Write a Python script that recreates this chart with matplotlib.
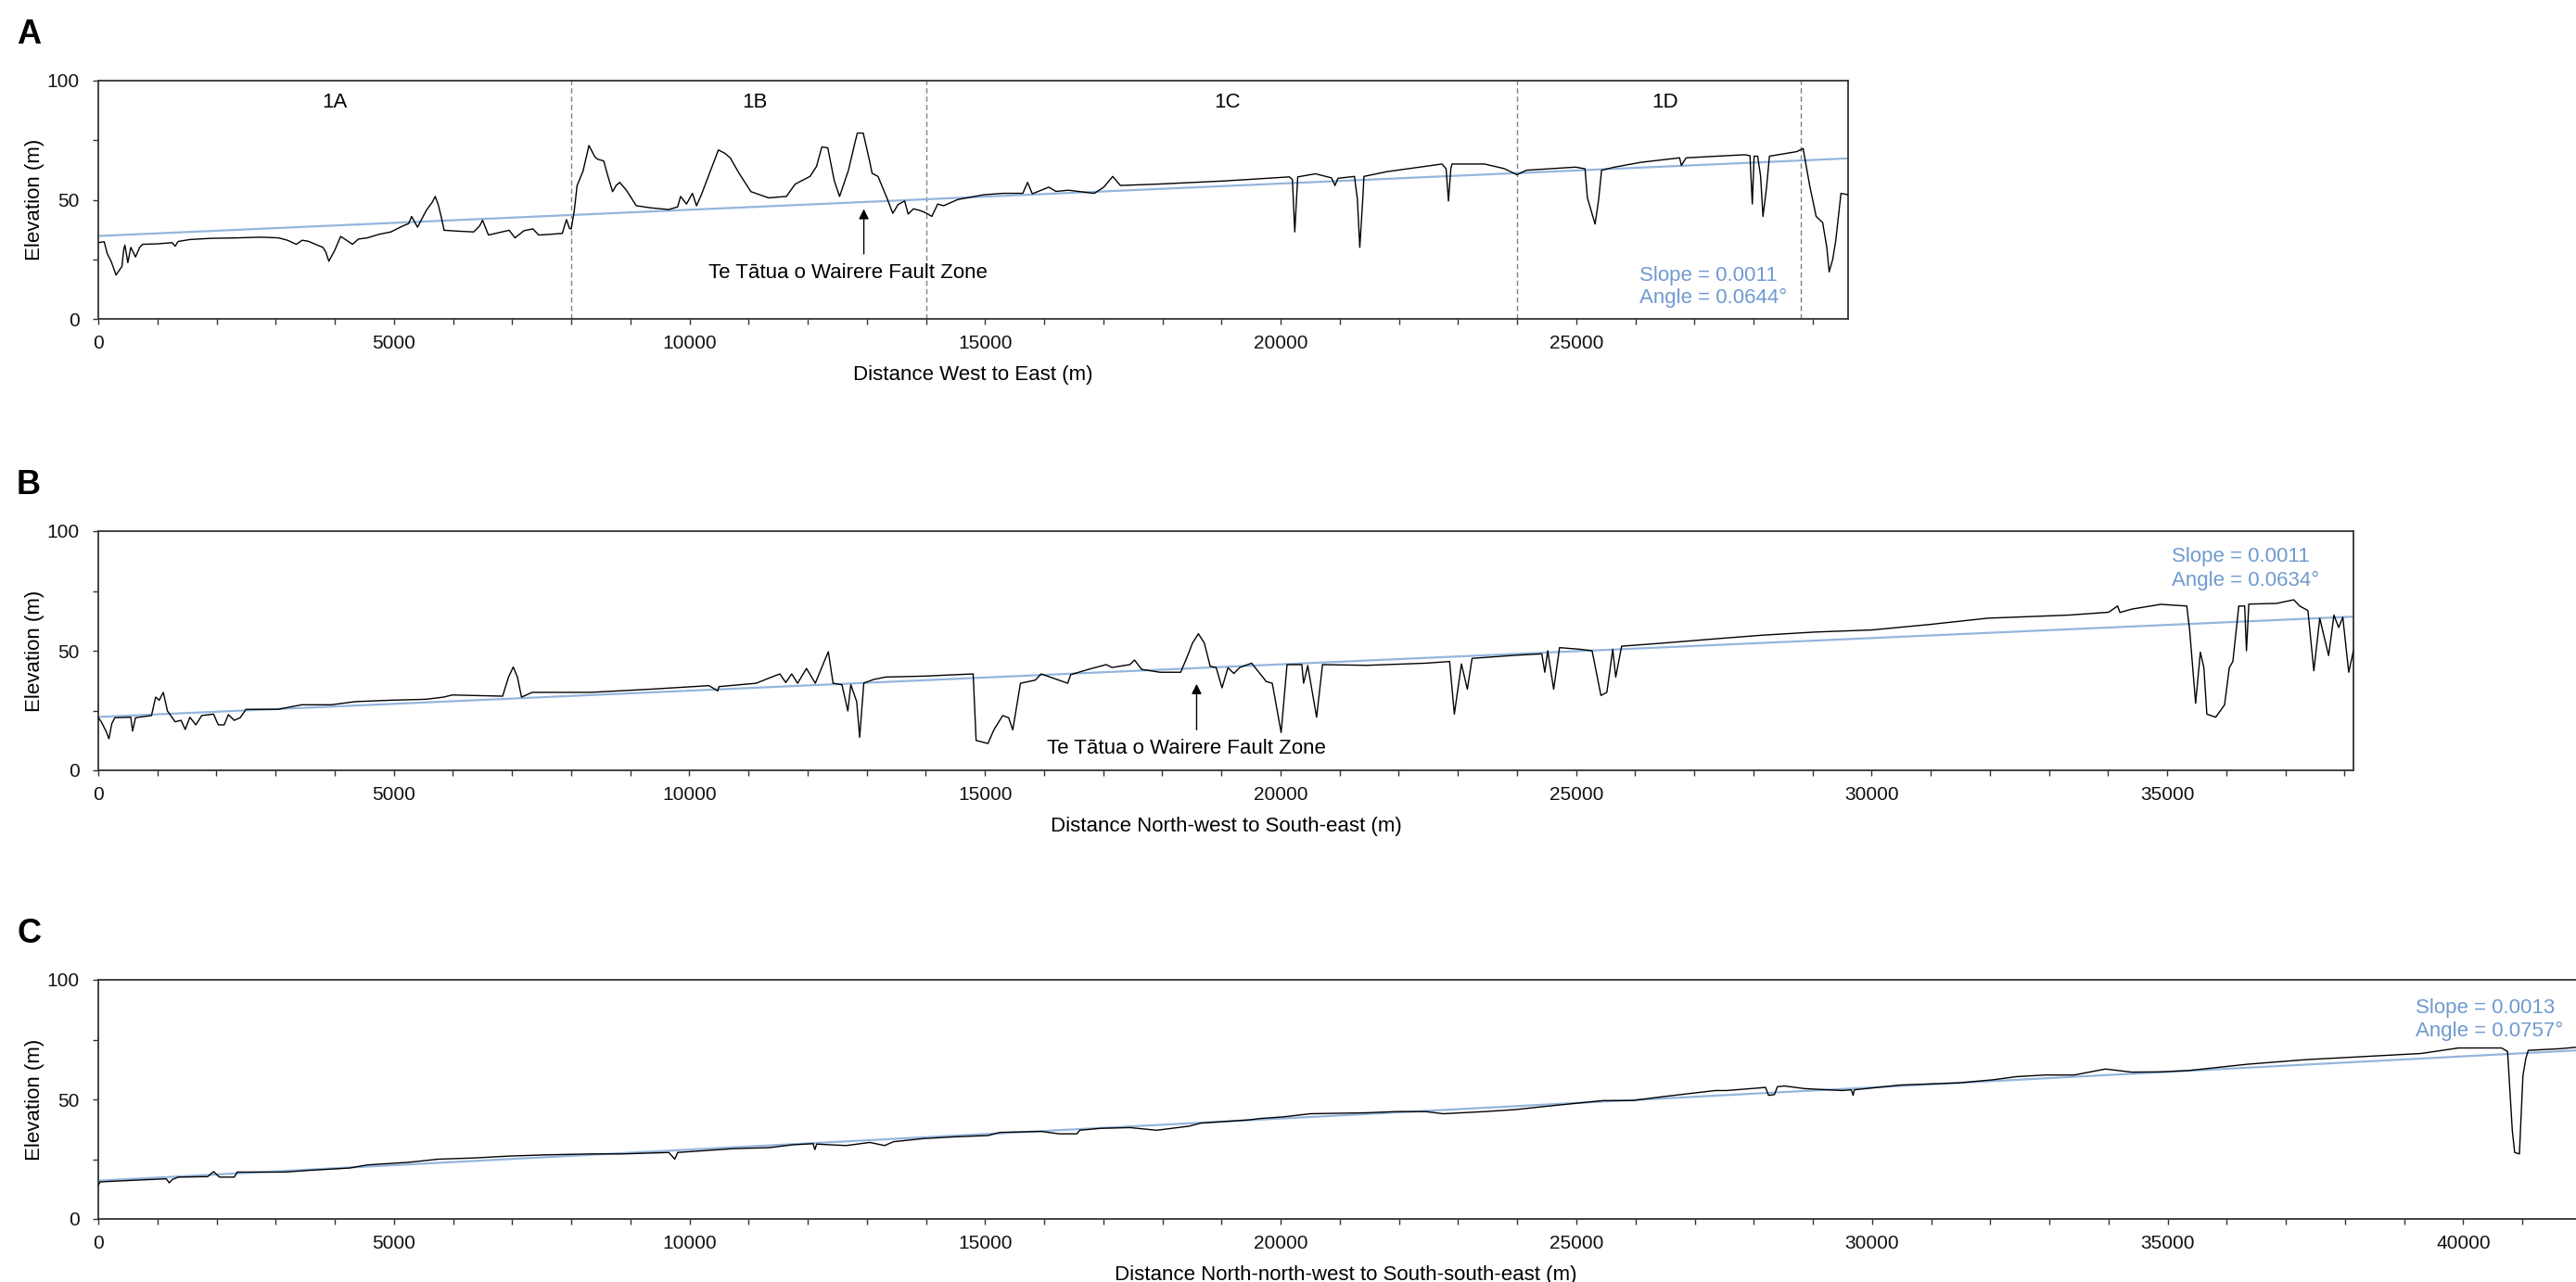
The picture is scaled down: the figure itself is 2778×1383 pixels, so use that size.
import matplotlib
matplotlib.use("Agg")
import matplotlib.pyplot as plt
from matplotlib.ticker import MultipleLocator, FuncFormatter

plt.rcParams["font.family"] = ["Liberation Sans", "DejaVu Sans"]

# Perfil A: distancia oeste-este (m) y elevacion (m)
dist_a = [0, 100, 150, 220, 300, 400, 430, 450, 500, 550, 630, 700, 750, 1000, 1250, 1300, 1350,
          1550, 1900, 2350, 2750, 3050, 3200, 3350, 3450, 3550, 3800, 3850, 3900, 4000, 4100, 4200,
          4300, 4400, 4550, 4750, 4950, 5150, 5250, 5300, 5400, 5550, 5650, 5700, 5750, 5800, 5850,
          6100, 6350, 6450, 6500, 6600, 6950, 7050, 7200, 7350, 7450, 7650, 7850, 7920, 7970, 8000,
          8050, 8100, 8200, 8300, 8400, 8450, 8550, 8620, 8700, 8760, 8820, 8900, 8950, 9100, 9350,
          9650, 9800, 9850, 9950, 10050, 10120, 10200, 10340, 10490, 10600, 10690, 10840, 11040,
          11340, 11640, 11790, 12040, 12150, 12240, 12340, 12450, 12540, 12690, 12800, 12840, 12940,
          13050, 13090, 13190, 13340, 13440, 13530, 13640, 13700, 13790, 13900, 14000, 14100, 14200,
          14300, 14540, 14980, 15310, 15640, 15720, 15800, 16080, 16200, 16410, 16850, 17010, 17160,
          17290, 17950, 19050, 20150, 20200, 20240, 20290, 20590, 20860, 20920, 20970, 21250, 21300,
          21340, 21390, 21410, 21800, 22350, 22730, 22800, 22840, 22880, 22900, 23450, 23780, 24000,
          24160, 24990, 25150, 25190, 25320, 25380, 25430, 25650, 26090, 26750, 26780, 26860, 27850,
          27940, 27980, 28010, 28070, 28120, 28160, 28220, 28270, 28730, 28840, 28950, 29060, 29170,
          29240, 29280, 29340, 29390, 29480, 29600]
elev_a = [32, 32.4, 27.5, 24, 18.4, 22, 29, 31, 23.6, 30, 26, 30, 31.3, 31.5, 32, 30.5, 32.5,
          33.3, 33.8, 34, 34.3, 34, 33, 31.3, 33, 32.6, 30, 28, 24.2, 28.8, 34.6, 33,
          31.3, 33.5, 34, 35.5, 36.5, 39, 40, 43, 38.5, 45.6, 49, 51.4, 48, 43, 37.2,
          36.8, 36.5, 39, 41.4, 35.2, 37.2, 34, 37, 37.8, 35.2, 35.5, 35.9, 41.7, 38, 37.8,
          45, 56, 62, 72.8, 68, 67, 66.3, 60, 53.4, 56, 57.3, 55, 53.4, 47.5, 46.6,
          45.9, 47, 51.4, 48.2, 52.7, 47.5, 52, 61.1, 70.9, 69.5, 67.6, 61.1, 53.4,
          50.8, 51.4, 56.6, 59.8, 64, 72.2, 71.8, 58, 51.4, 62.4, 74, 78, 78,
          66, 61.1, 59.8, 50.8, 44.3, 48, 49.5, 44, 46.2, 45.5, 44.5, 43, 48.2,
          47.5, 50.1, 52.1, 52.7, 52.7, 57.3, 52.5, 55.3, 53.5, 54, 52.7, 55.3, 59.8,
          56, 56.6, 57.9, 59.6, 58.5, 36.5, 59.6, 60.9, 59.2, 56, 59, 59.8, 50,
          30, 50, 59.8, 61.8, 63.7, 65, 63, 49.5, 63, 65, 65, 63.1, 60.5,
          62.4, 63.7, 63, 50.8, 39.8, 50, 62.4, 63.7, 65.7, 67.6, 64.4, 67.6, 68.9,
          68.5, 48.2, 68.3, 68.3, 60, 43, 55, 68.3, 70.2, 71.5, 56, 43, 40.4,
          30, 19.7, 25, 32.6, 52.7, 52.1]

# Perfil B: distancia noroeste-sureste
dist_b = [0, 50, 130, 180, 230, 280, 550, 580, 630, 900, 970, 1030, 1100, 1170, 1300, 1400, 1470,
          1550, 1650, 1750, 1950, 2030, 2130, 2200, 2300, 2400, 2500, 3040, 3440, 3940, 4340, 4940,
          5540, 5840, 5990, 6340, 6840, 6940, 7020, 7090, 7160, 7340, 8330, 9330, 10330, 10480,
          10500, 11130, 11330, 11530, 11630, 11730, 11830, 11980, 12130, 12280, 12350, 12430, 12580,
          12680, 12730, 12830, 12880, 12950, 13120, 13320, 14000, 14250, 14800, 14850, 15050, 15150,
          15300, 15400, 15470, 15600, 15850, 15950, 16400, 16450, 16750, 17050, 17150, 17450, 17530,
          17650, 17960, 18310, 18410, 18510, 18610, 18710, 18810, 18910, 19010, 19110, 19210, 19310,
          19510, 19760, 19860, 20010, 20110, 20360, 20390, 20460, 20610, 20710, 21460, 22460, 22860,
          22940, 23060, 23160, 23240, 23970, 24420, 24470, 24520, 24620, 24720, 25070, 25270, 25420,
          25520, 25620, 25670, 25770, 26470, 27470, 28150, 29030, 30010, 30990, 31960, 33330, 34010,
          34160, 34200, 34400, 34890, 35330, 35380, 35480, 35560, 35620, 35670, 35820, 35970, 36050,
          36110, 36210, 36310, 36340, 36380, 36850, 37140, 37240, 37380, 37480, 37580, 37730, 37820,
          37900, 37970, 38070, 38150]
elev_b = [22, 20.3, 16.4, 13.2, 19.6, 22, 22.2, 16.4, 22, 22.9, 30.6, 29.3, 32.6, 24.8, 20.3, 20.9, 17.1,
          22.2, 19, 22.9, 23.5, 19, 19, 23.3, 20.9, 22, 25.5, 25.5, 27.4, 27.4, 28.7, 29.3,
          29.7, 30.6, 31.5, 31.3, 31, 39, 43.2, 39, 30.6, 32.6, 32.6, 33.9, 35.4, 33.2,
          35, 36.4, 38.4, 40.3, 36.7, 40.3, 36.4, 42.6, 36.4, 45.5, 49.6, 36.4, 35.8,
          24.8, 35.8, 28.7, 13.8, 36.5, 38, 39, 39.4, 39.7, 40.3, 12.5, 11.2, 16.9,
          22.9, 22, 16.9, 36.4, 37.7, 40.3, 36.4, 40, 42.2, 44.2, 43, 44.2, 46.1,
          42.2, 41, 41, 46.8, 53.2, 57.1, 53.2, 43.5, 43, 34.5, 42.9, 40.5, 43,
          44.8, 37.1, 36.4, 15.8, 44.2, 44.2, 36.4, 43.8, 22.2, 44.2, 43.9, 44.8, 45.5,
          23.5, 44.5, 33.9, 46.8, 48.1, 48.7, 41, 50, 33.9, 51.3, 50.6, 50, 31.3,
          32.6, 50.6, 39, 51.9, 53.2, 55.2, 56.5, 57.8, 58.7, 61, 63.6, 64.9, 66.1,
          68.7, 66, 67.4, 69.4, 68.7, 58.4, 28, 49.4, 42.9, 23.5, 22.2, 27.4, 42.9,
          45.5, 68.7, 68.7, 50, 69.5, 69.8, 71.3, 68.7, 66.8, 41.6, 63.6, 48, 64.9,
          59.7, 64, 41, 50]

# Perfil C: distancia nor-noroeste a sur-sureste
dist_c = [0, 30, 350, 1150, 1200, 1250, 1350, 1850, 1950, 2050, 2300, 2350, 3150, 3550, 4250, 4550,
          5250, 5750, 6350, 6950, 7550, 8350, 8850, 9650, 9750, 9800, 10740, 11340, 11740, 12090,
          12120, 12150, 12650, 13050, 13300, 13450, 13950, 14450, 15050, 15250, 15950, 16250, 16550,
          16600, 16950, 17450, 17900, 18450, 18650, 19450, 19650, 20050, 20500, 21450, 21950, 22450,
          22750, 23450, 23950, 24450, 25050, 25450, 25950, 26450, 26900, 27350, 27540, 28200, 28250,
          28350, 28400, 28520, 28860, 29500, 29650, 29680, 29700, 30480, 31460, 32050, 32440, 32930,
          33420, 33950, 34390, 34880, 35370, 36350, 37330, 38310, 39290, 39920, 40650, 40750, 40830,
          40870, 40950, 41010, 41060, 41100, 41640, 41910, 42200]
elev_c = [14.2, 15.5, 15.9, 16.8, 15.1, 16.5, 17.5, 17.7, 19.8, 17.5, 17.5, 19.6, 19.6, 20.3, 21.3, 22.6,
          23.7, 25, 25.5, 26.3, 26.8, 27.2, 27.2, 27.8, 25, 27.8, 29.4, 29.8, 31, 31.5,
          29, 31.3, 30.7, 32, 30.7, 32.3, 33.6, 34.3, 34.9, 36.2, 36.6, 35.6, 35.6,
          37.1, 37.9, 38.2, 37.1, 38.8, 40.1, 41.4, 42, 42.7, 44, 44.4, 44.9, 44.9,
          44, 44.9, 45.7, 47, 48.5, 49.5, 49.5, 51.1, 52.4, 53.7, 53.7, 55, 51.7,
          52, 55.3, 55.6, 54.5, 53.7, 54, 51.7, 54, 56, 56.9, 58.2, 59.5, 60.2,
          60.2, 62.7, 61.4, 61.5, 62.1, 64.7, 66.6, 67.9, 69.2, 71.5, 71.5, 70, 36.9,
          27.8, 27.2, 60, 67.3, 70.5, 71.2, 71.8, 72]

# Ajuste lineal de cada perfil
slopes = [0.0011, 0.0011, 0.0013]
intercepts = [34.8, 22.3, 16.0]
angles = ["0.0644", "0.0634", "0.0757"]

xlabels = ["Distance West to East (m)",
           "Distance North-west to South-east (m)",
           "Distance North-north-west to South-south-east (m)"]
xmax = [29600, 38150, 42200]
panel_letters = ["A", "B", "C"]

# Sectores del perfil A
sector_bounds = [8000, 14000, 24000, 28800]
sector_names = ["1A", "1B", "1C", "1D"]
sector_centres = [4000, 11100, 19100, 26500]

fault_name = "Te T\u0101tua o Wairere Fault Zone"

W, H = 2778, 1383
fig = plt.figure(figsize=(W / 100, H / 100), dpi=100)

# cajas de ejes en pixeles: (izquierda, arriba, abajo)
boxes = [(106, 87, 344), (106, 573, 831), (106, 1057, 1315)]
px_per_m = [(1993 - 106) / 29600, (2538 - 106) / 38150, 63.76 / 1000]

blue_line = "#93b6dd"
blue_text = "#6f9acf"

profiles = [(dist_a, elev_a), (dist_b, elev_b), (dist_c, elev_c)]
axes = []
for i in range(3):
    left, top, bottom = boxes[i]
    width = xmax[i] * px_per_m[i]
    ax = fig.add_axes([left / W, 1 - bottom / H, width / W, (bottom - top) / H])
    axes.append(ax)
    x, y = profiles[i]
    ax.plot(x, y, color="black", lw=1.0, zorder=3)
    fx = [0, xmax[i]]
    fy = [intercepts[i] + slopes[i] * v for v in fx]
    ax.plot(fx, fy, color=blue_line, lw=1.6, zorder=2)
    ax.set_xlim(0, xmax[i])
    ax.set_ylim(0, 100)

    ax.xaxis.set_major_locator(MultipleLocator(1000))
    ax.xaxis.set_major_formatter(FuncFormatter(lambda v, p: "%d" % v if v % 5000 == 0 else ""))
    ax.yaxis.set_major_locator(MultipleLocator(25))
    ax.yaxis.set_major_formatter(FuncFormatter(lambda v, p: "%d" % v if v % 50 == 0 else ""))
    ax.tick_params(axis="both", direction="out", length=4.5, width=1.0, color="#333333",
                   labelsize=15, labelcolor="#111111")
    ax.tick_params(axis="x", pad=8)
    ax.tick_params(axis="y", pad=10)
    for s in ax.spines.values():
        s.set_color("#333333")
        s.set_linewidth(1.3)

    ax.set_xlabel(xlabels[i], fontsize=16, labelpad=10)
    ax.set_ylabel("Elevation (m)", fontsize=16, labelpad=2)

    fig.text(18 / W, 1 - (top - 40) / H, panel_letters[i], fontsize=26,
             fontweight="bold", va="baseline", ha="left")

# pendiente y angulo
slope_pos = [(26070, 16.0, 6.6), (35070, 87.2, 77.1), (39195, 86.0, 76.4)]
for i, ax in enumerate(axes):
    sx, y1, y2 = slope_pos[i]
    ax.text(sx, y1, "Slope = %.4f" % slopes[i], color=blue_text, fontsize=16, va="baseline")
    ax.text(sx, y2, "Angle = %s\u00b0" % angles[i], color=blue_text, fontsize=16, va="baseline")

# sectores en el perfil A
ax = axes[0]
for b in sector_bounds:
    ax.axvline(b, color="#808080", lw=1.0, ls=(0, (4, 2.5)), zorder=1)
for c, name in zip(sector_centres, sector_names):
    ax.text(c, 91, name, fontsize=16, ha="center", va="center")

# zona de falla
faults = [(axes[0], 12950, 47.2, 26.2, 12680, 17.0),
          (axes[1], 18580, 37.2, 15.9, 18400, 7.0)]
for fax, ax_x, tip, tail, tx, ty in faults:
    fax.annotate("", xy=(ax_x, tip), xytext=(ax_x, tail),
                 arrowprops=dict(arrowstyle="-|>", color="black", lw=1.0, mutation_scale=16))
    fax.text(tx, ty, fault_name, fontsize=16, ha="center", va="baseline")

fig.savefig("out.png", dpi=100)
